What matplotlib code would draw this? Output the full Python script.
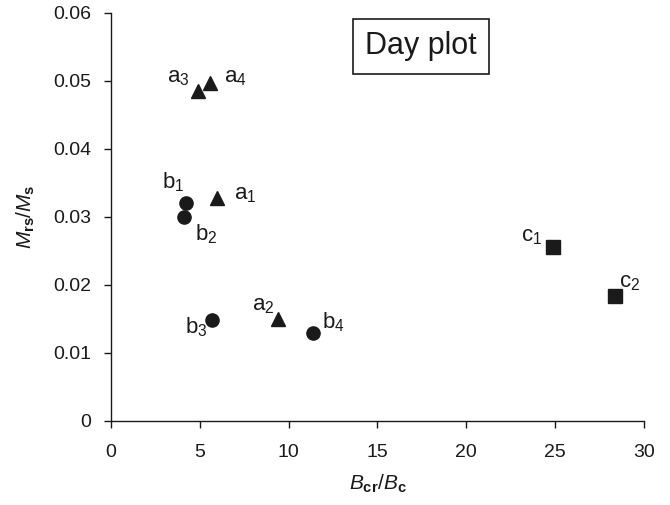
import matplotlib
matplotlib.use("Agg")
import matplotlib.pyplot as plt

plt.rcParams['font.family'] = ['Liberation Sans', 'DejaVu Sans']
plt.rcParams['mathtext.fontset'] = 'custom'
plt.rcParams['mathtext.rm'] = 'Liberation Sans'
plt.rcParams['mathtext.it'] = 'Liberation Sans:italic'
plt.rcParams['mathtext.bf'] = 'Liberation Sans:bold'

# Day plot data (Bcr/Bc, Mrs/Ms)
a_names = ['a1', 'a2', 'a3', 'a4']
a_x = [5.95, 9.38, 4.88, 5.57]
a_y = [0.0327, 0.0150, 0.0485, 0.0496]

b_names = ['b1', 'b2', 'b3', 'b4']
b_x = [4.20, 4.12, 5.67, 11.35]
b_y = [0.0320, 0.0300, 0.0148, 0.0129]

c_names = ['c1', 'c2']
c_x = [24.9, 28.4]
c_y = [0.0255, 0.0183]

# label offsets in pixels from each point
a_off = [(28, 4), (-14, 13), (-19, 13), (25, 6)]
b_off = [(-12, 21), (22, -18), (-15, -7), (21, 11)]
c_off = [(-22, 11), (14, 14)]

x_ticks = [0, 5, 10, 15, 20, 25, 30]
y_ticks = [0, 0.01, 0.02, 0.03, 0.04, 0.05, 0.06]
y_ticklabels = ['0', '0.01', '0.02', '0.03', '0.04', '0.05', '0.06']

col = '#1a1a1a'

fig = plt.figure(figsize=(6.7, 5.05), dpi=100)
ax = fig.add_axes([0.1657, 0.1673, 0.961 - 0.1657, 0.975 - 0.1673])

ax.plot(a_x, a_y, '^', color=col, ms=9.5, mec=col, ls='none', clip_on=False)
ax.plot(b_x, b_y, 'o', color=col, ms=9.5, mec=col, ls='none', clip_on=False)
ax.plot(c_x, c_y, 's', color=col, ms=9.5, mec=col, ls='none', clip_on=False)


def put_labels(names, xs, ys, offs):
    for n, x, y, off in zip(names, xs, ys, offs):
        txt = r'$\mathrm{%s}_{\mathrm{%s}}$' % (n[0], n[1:])
        ax.annotate(txt, (x, y), xytext=off, textcoords='offset pixels',
                    ha='center', va='center', fontsize=16, color=col)


put_labels(a_names, a_x, a_y, a_off)
put_labels(b_names, b_x, b_y, b_off)
put_labels(c_names, c_x, c_y, c_off)

ax.set_xlim(0, 30)
ax.set_ylim(0, 0.06)
ax.set_xticks(x_ticks)
ax.set_yticks(y_ticks)
ax.set_yticklabels(y_ticklabels)
ax.tick_params(direction='out', length=5, width=1, colors=col,
               labelsize=14, pad=9)
ax.tick_params(axis='x', pad=12)
for s in ['top', 'right']:
    ax.spines[s].set_visible(False)
for s in ['left', 'bottom']:
    ax.spines[s].set_color(col)
    ax.spines[s].set_linewidth(1)

ax.set_xlabel(r'$\mathit{B}_{\mathbf{cr}}\mathit{/B}_{\mathbf{c}}$',
              fontsize=15, color=col, labelpad=8)
ax.set_ylabel(r'$\mathit{M}_{\mathbf{rs}}\mathit{/M}_{\mathbf{s}}$',
              fontsize=15, color=col, labelpad=12)

ax.text(0.582, 0.917, 'Day plot', transform=ax.transAxes, fontsize=22,
        ha='center', va='center', color=col,
        bbox=dict(boxstyle='square,pad=0.4', fc='white', ec=col, lw=1.2))

fig.savefig('out.png', dpi=100)
